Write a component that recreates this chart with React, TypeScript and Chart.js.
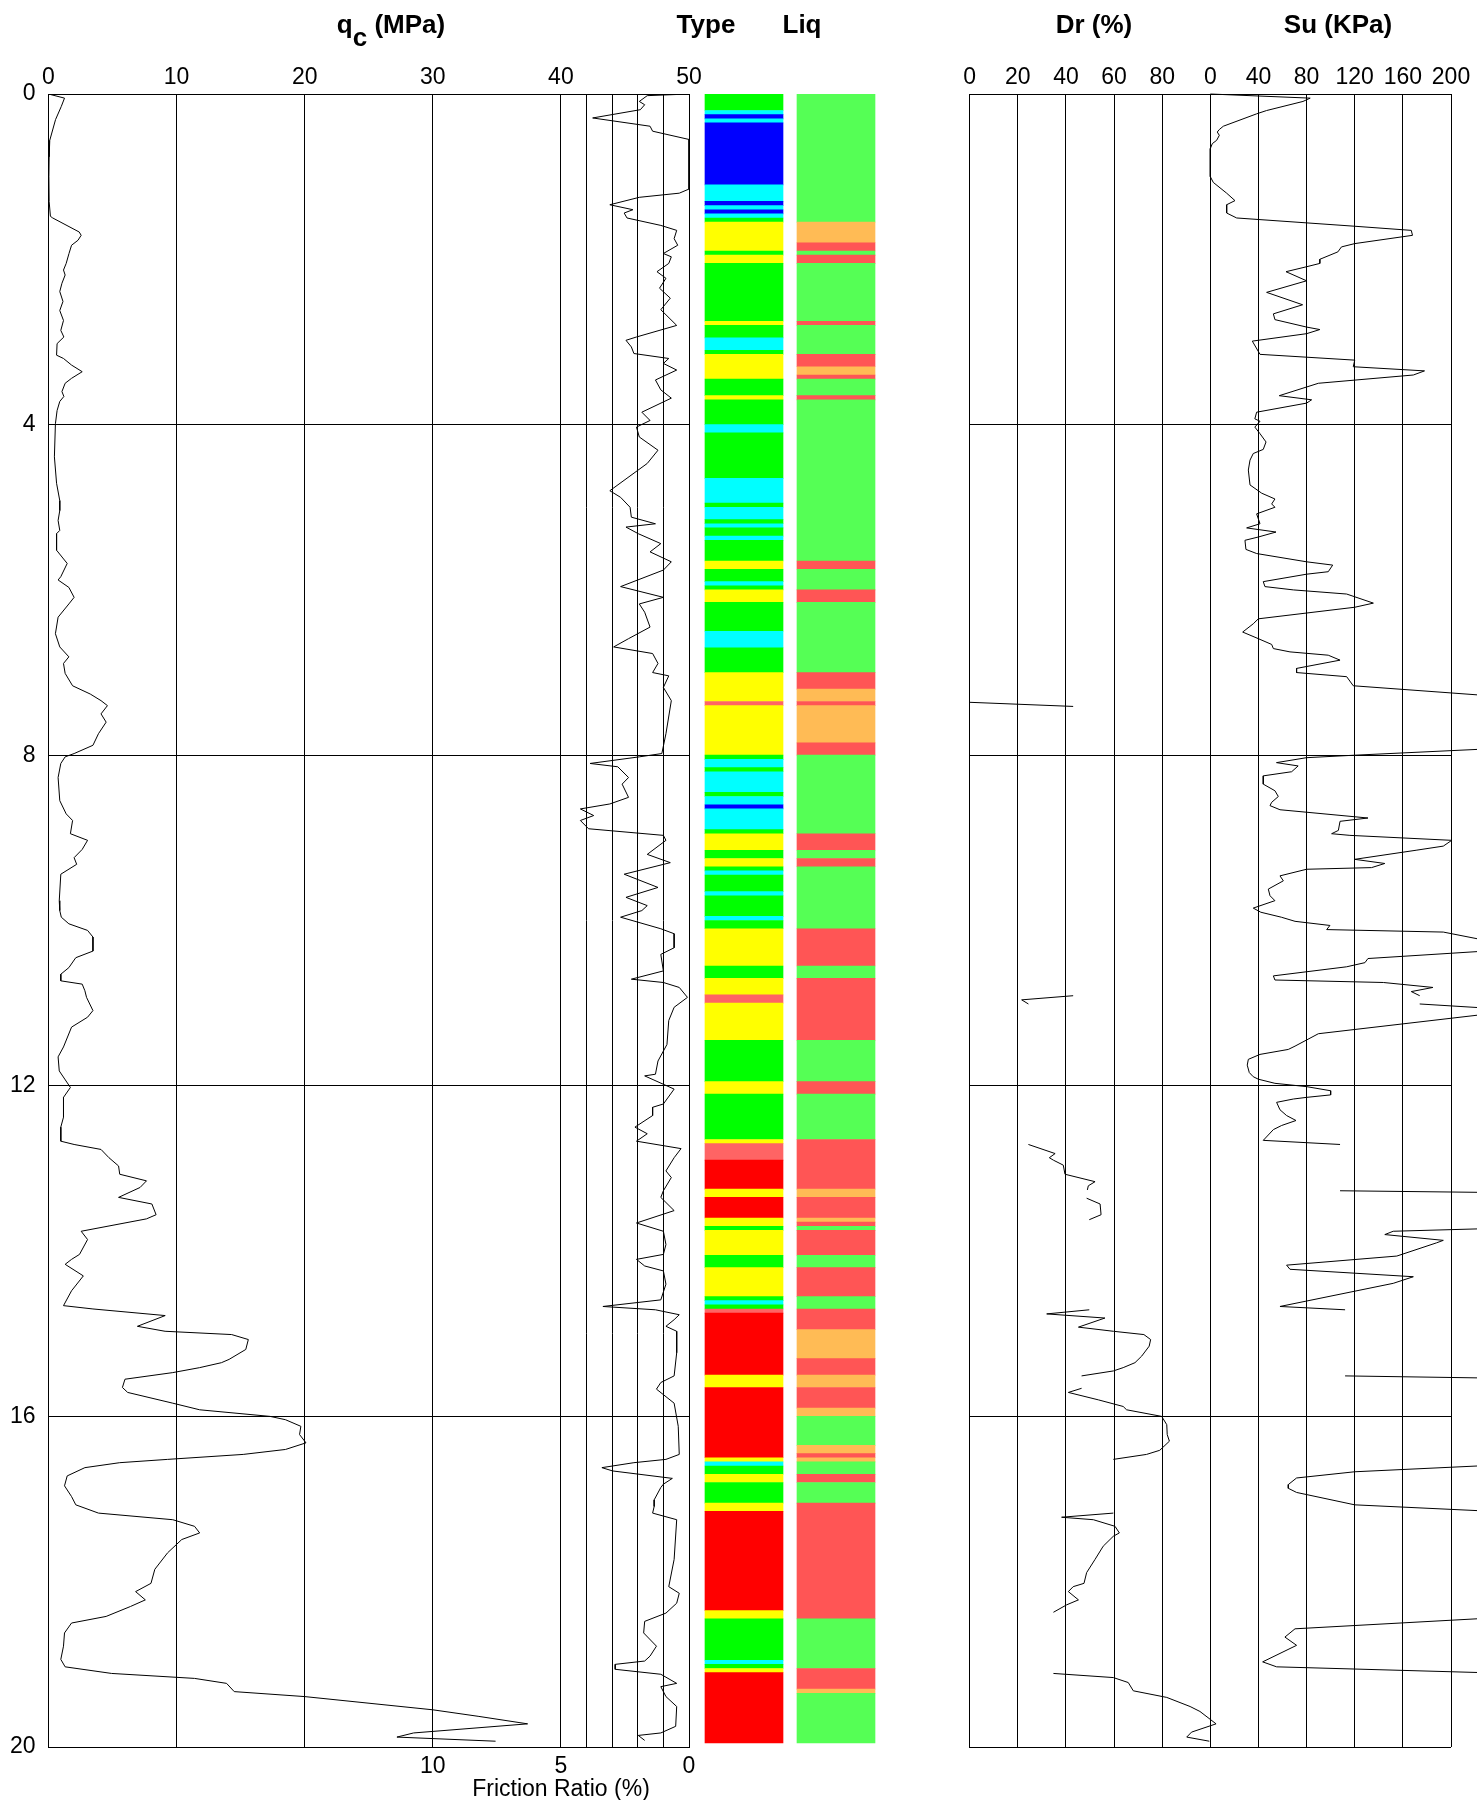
import React, { useEffect, useRef } from "react";
import { Chart, registerables } from "chart.js";

Chart.register(...registerables);

const FONT = "'Liberation Sans', Arial, Helvetica, sans-serif";
Chart.defaults.font.family = FONT;
Chart.defaults.color = "#000";

// ---------------- DATA ----------------
// depth range (m)
const depthMin = 0;
const depthMax = 20;
const depthStep = 4;

// tick label sets
const qcTicks = [0, 10, 20, 30, 40, 50];
const frictionTickLabels = [0, 5, 10];
const frictionGridValues = [1, 2, 3, 4];
const drTickLabels = [0, 20, 40, 60, 80];
const suTicks = [0, 40, 80, 120, 160, 200];

// [depth m, qc MPa]
const qcProfile: [number, number | null][] = [
  [0, 0], [0.05, 1.25], [0.15, 1.0], [0.31, 0.55], [0.56, 0.1], [0.76, 0.05], [1.0, 0.03], [1.3, 0.05],
  [1.48, 0.15], [1.5, 0.33], [1.67, 2.4], [1.71, 2.55], [1.77, 2.3], [1.83, 1.8], [1.93, 1.6], [2.05, 1.38],
  [2.13, 1.17], [2.19, 1.3], [2.29, 1.05], [2.39, 0.88], [2.51, 1.13], [2.62, 0.88], [2.74, 1.17], [2.86, 0.96],
  [2.94, 1.2], [3.02, 0.67], [3.16, 0.63], [3.2, 1.17], [3.28, 1.8], [3.36, 2.63], [3.44, 1.8], [3.5, 1.3],
  [3.6, 1.05], [3.66, 1.2], [3.72, 0.88], [3.83, 0.67], [3.99, 0.54], [4.39, 0.46], [4.71, 0.63], [4.92, 0.88],
  [5.04, 0.88], [5.16, 0.75], [5.28, 0.88], [5.32, 0.63], [5.52, 0.63], [5.68, 1.46], [5.84, 0.96], [5.88, 0.75],
  [5.97, 1.59], [6.09, 2.0], [6.17, 1.59], [6.33, 0.75], [6.53, 0.54], [6.69, 0.88], [6.81, 1.59], [6.89, 1.17],
  [7.01, 1.3], [7.16, 1.88], [7.26, 3.26], [7.34, 4.1], [7.4, 4.6], [7.5, 4.1], [7.6, 4.5], [7.74, 3.9],
  [7.88, 3.47], [7.98, 2.0], [8.02, 1.3], [8.1, 0.96], [8.27, 0.75], [8.55, 0.88], [8.71, 1.38], [8.79, 1.88],
  [8.95, 1.71], [9.03, 3.05], [9.14, 2.63], [9.24, 2.0], [9.32, 2.2], [9.44, 0.96], [9.76, 0.84], [9.88, 0.88],
  [9.96, 1.0], [10.04, 1.59], [10.12, 3.05], [10.2, 3.47], [10.37, 3.47], [10.45, 2.13], [10.57, 1.59], [10.65, 0.96],
  [10.73, 0.96], [10.77, 2.63], [10.85, 2.84], [10.93, 2.97], [11.09, 3.47], [11.17, 3.05], [11.29, 1.8], [11.53, 1.17],
  [11.65, 0.75], [11.82, 0.84], [12.02, 1.71], [12.14, 1.17], [12.38, 1.17], [12.5, 0.96], [12.67, 0.96], [12.71, 2.0],
  [12.77, 4.1], [12.87, 4.72], [12.97, 5.47], [13.07, 5.56], [13.15, 7.65], [13.23, 7.15], [13.35, 5.47], [13.43, 8.07],
  [13.56, 8.4], [13.61, 7.65], [13.76, 2.55], [13.86, 3.05], [14.04, 2.42], [14.1, 1.8], [14.16, 1.3], [14.3, 2.72],
  [14.48, 1.8], [14.66, 1.17], [14.7, 3.47], [14.78, 9.11], [14.91, 6.94], [14.97, 9.1], [15.01, 14.3], [15.07, 15.6],
  [15.19, 15.4], [15.31, 14.1], [15.35, 13.5], [15.41, 11.8], [15.47, 9.7], [15.55, 5.97], [15.65, 5.77], [15.71, 6.18],
  [15.84, 9.7], [15.92, 11.8], [16.0, 17.3], [16.04, 18.5], [16.12, 19.7], [16.22, 19.6], [16.32, 20.1], [16.4, 18.5],
  [16.46, 15.2], [16.52, 9.3], [16.56, 5.56], [16.62, 2.84], [16.72, 1.46], [16.84, 1.25], [16.97, 1.8], [17.07, 2.13],
  [17.17, 3.9], [17.25, 9.7], [17.33, 11.4], [17.41, 11.8], [17.49, 10.4], [17.65, 9.3], [17.85, 8.3], [18.02, 8.0],
  [18.12, 6.8], [18.22, 7.56], [18.3, 6.4], [18.42, 4.5], [18.5, 1.8], [18.62, 1.25], [18.78, 1.17], [18.94, 0.96],
  [19.03, 1.3], [19.11, 4.93], [19.17, 11.4], [19.23, 13.9], [19.33, 14.5], [19.39, 20.0], [19.55, 30.0], [19.63, 33.6],
  [19.72, 37.4], [19.83, 28.5], [19.88, 27.2], [19.93, 34.9],
];

// [depth m, friction ratio %]
const frictionRatioProfile: [number, number | null][] = [
  [0, 0], [0.02, 1.63], [0.09, 1.94], [0.13, 1.73], [0.19, 1.9], [0.29, 3.76], [0.39, 1.52], [0.45, 1.42],
  [0.55, 0], [1.15, 0], [1.2, 0.38], [1.25, 1.94], [1.34, 3.09], [1.4, 2.19], [1.44, 2.53], [1.5, 2.42],
  [1.59, 1.1], [1.65, 0.48], [1.75, 0.58], [1.83, 0.44], [1.93, 1.0], [1.97, 0.69], [2.05, 0.79], [2.15, 1.25],
  [2.23, 0.9], [2.35, 1.15], [2.47, 0.73], [2.61, 1.1], [2.8, 0.48], [2.94, 2.05], [2.98, 2.46], [3.06, 2.25],
  [3.14, 2.15], [3.2, 0.79], [3.26, 1.0], [3.34, 0.48], [3.46, 1.31], [3.58, 1.1], [3.68, 0.69], [3.85, 1.84],
  [3.95, 1.52], [4.03, 2.05], [4.15, 1.94], [4.31, 1.21], [4.47, 1.63], [4.8, 3.09], [4.88, 2.67], [5.0, 2.3],
  [5.12, 2.25], [5.2, 1.31], [5.24, 2.46], [5.32, 1.98], [5.44, 1.1], [5.54, 1.52], [5.66, 0.69], [5.76, 1.0],
  [5.96, 2.67], [6.09, 1.0], [6.17, 1.94], [6.27, 1.73], [6.45, 1.52], [6.59, 2.36], [6.69, 2.94], [6.77, 1.42],
  [6.89, 1.21], [7.0, 1.42], [7.04, 0.79], [7.18, 1.0], [7.34, 0.69], [7.74, 0.9], [7.98, 1.06], [8.02, 1.94],
  [8.1, 3.86], [8.14, 2.78], [8.27, 2.36], [8.35, 2.61], [8.51, 2.36], [8.59, 3.09], [8.65, 4.24], [8.73, 3.72],
  [8.79, 4.24], [8.89, 3.92], [8.97, 1.0], [9.03, 0.9], [9.2, 1.63], [9.3, 0.73], [9.44, 2.53], [9.6, 1.21],
  [9.72, 2.46], [9.82, 1.63], [9.88, 1.84], [9.96, 2.67], [10.1, 1.1], [10.16, 0.58], [10.33, 0.58], [10.41, 1.1],
  [10.49, 1.06], [10.61, 1.0], [10.71, 2.25], [10.75, 1.0], [10.81, 0.38], [10.93, 0.06], [11.05, 0.58], [11.21, 0.79],
  [11.5, 0.86], [11.7, 1.21], [11.86, 1.31], [11.88, 1.73], [12.04, 0.58], [12.22, 1.0], [12.26, 1.42], [12.36, 1.42],
  [12.5, 2.11], [12.58, 1.63], [12.67, 2.05], [12.76, 0.31], [12.87, 0.58], [13.03, 0.9], [13.11, 0.69], [13.27, 1.0],
  [13.35, 1.1], [13.51, 0.58], [13.66, 2.05], [13.76, 1.0], [13.92, 0.9], [14.04, 1.0], [14.1, 2.05], [14.18, 1.73],
  [14.24, 1.0], [14.4, 0.9], [14.59, 1.1], [14.67, 3.36], [14.71, 1.31], [14.77, 0.38], [14.83, 0.58], [14.91, 0.9],
  [14.97, 0.48], [15.23, 0.48], [15.51, 0.58], [15.59, 1.1], [15.67, 1.27], [15.84, 0.58], [16.12, 0.42], [16.46, 0.38],
  [16.52, 0.9], [16.56, 2.15], [16.62, 3.4], [16.66, 2.98], [16.75, 0.65], [16.82, 1.0], [16.86, 1.1], [17.01, 1.36],
  [17.09, 1.36], [17.17, 1.42], [17.25, 0.48], [17.73, 0.58], [18.06, 0.79], [18.14, 0.38], [18.26, 0.48], [18.38, 0.9],
  [18.48, 1.73], [18.62, 1.77], [18.78, 1.27], [18.9, 1.52], [18.96, 1.73], [19.0, 2.88], [19.06, 2.88], [19.12, 1.1],
  [19.23, 0.48], [19.27, 1.1], [19.39, 0.9], [19.51, 0.48], [19.75, 0.52], [19.83, 1.1], [19.86, 1.98], [19.92, 1.73],
];

// [depth m, Dr %]  (null = gap)
const drProfile: [number, number | null][] = [
  [7.36, 0], [7.41, 43], [7.6, null],
  [10.91, 43], [10.96, 21.6], [11.01, 24.4], [11.5, null],
  [12.71, 24.4], [12.82, 35.5], [12.87, 33.1], [12.9, 34.8], [12.96, 38.9], [13.07, 39.6], [13.16, 52.1], [13.21, 49.3],
  [13.26, 48.9], [13.3, null],
  [13.36, 48.6], [13.43, 54.2], [13.56, 54.6], [13.62, 49.7], [14.0, null],
  [14.71, 49.7], [14.76, 32], [14.81, 56.2], [14.92, 45.2], [14.97, 59.7], [15.01, 72.4], [15.07, 75.2], [15.15, 74.6],
  [15.27, 71.5], [15.35, 68.7], [15.41, 63.8], [15.45, 59.7], [15.51, 46.5], [15.6, null],
  [15.66, 46.5], [15.71, 41], [15.8, 53.5], [15.88, 63.8], [15.92, 65.2], [16.0, 79.8], [16.1, 81.9], [16.22, 82.1],
  [16.3, 83], [16.41, 79], [16.46, 73.5], [16.52, 59.7], [16.8, null],
  [17.17, 59.7], [17.22, 38.2], [17.25, 51.4], [17.33, 60.4], [17.41, 62.2], [17.45, 59.7], [17.57, 55.5], [17.73, 52.1],
  [17.89, 48.6], [18.02, 47.5], [18.06, 43], [18.12, 41], [18.22, 45.2], [18.28, 40.3], [18.37, 34.8], [18.7, null],
  [19.11, 34.8], [19.16, 59.7], [19.22, 65.9], [19.32, 68], [19.4, 81.9], [19.51, 91.6], [19.57, 95.7], [19.72, 102.4],
  [19.82, 92.2], [19.88, 90.2], [19.93, 99.6],
];

// [depth m, Su kPa]  (null = gap; values above 200 run off the panel)
const suProfile: [number, number | null][] = [
  [0, 0], [0.05, 83], [0.09, 77], [0.2, 46.8], [0.24, 38.5], [0.39, 10.8], [0.43, 7.5], [0.46, 5.8],
  [0.5, 7.5], [0.56, 5.3], [0.6, 1.7], [0.66, 0], [1.0, 0], [1.07, 2.5], [1.2, 13.6], [1.29, 20.5],
  [1.34, 13.6], [1.44, 13.6], [1.5, 21.9], [1.6, 120], [1.65, 167], [1.71, 168], [1.81, 120], [1.85, 109],
  [1.91, 106], [2.0, 91], [2.05, 91], [2.09, 80], [2.15, 62.9], [2.26, 80], [2.4, 46.8], [2.55, 76.7],
  [2.66, 52.4], [2.73, 53.7], [2.82, 80], [2.85, 91], [2.9, 80], [2.99, 34.9], [3.15, 41.3], [3.22, 120],
  [3.3, 118.8], [3.35, 178], [3.4, 168.7], [3.5, 89.8], [3.65, 57.3], [3.7, 84.2], [3.74, 80], [3.85, 38.5],
  [3.93, 37], [3.96, 41.3], [4.03, 37], [4.11, 41.3], [4.21, 46.3], [4.3, 44], [4.35, 35.7], [4.43, 33],
  [4.55, 31.6], [4.73, 33], [4.83, 42.7], [4.9, 53.7], [4.96, 51], [5.0, 53.7], [5.08, 38.5], [5.2, 41.3],
  [5.25, 30.2], [5.3, 54.6], [5.36, 39.9], [5.4, 28.8], [5.51, 29.6], [5.56, 38.5], [5.66, 80], [5.7, 101.7],
  [5.78, 98], [5.81, 80], [5.9, 44], [5.96, 45.4], [6.0, 69], [6.05, 113.3], [6.16, 135.5], [6.21, 120],
  [6.35, 39.9], [6.41, 35.7], [6.51, 26.9], [6.59, 39.9], [6.66, 51], [6.71, 52.4], [6.75, 66.2], [6.79, 98],
  [6.85, 107.8], [6.95, 71.7], [7.0, 71.7], [7.05, 113.3], [7.16, 118.8], [7.3, 250], [7.32, null],
  [7.9, 265], [8.0, 120], [8.03, 80], [8.09, 55], [8.13, 73], [8.2, 67.6], [8.25, 44], [8.35, 44],
  [8.43, 53.7], [8.5, 56.5], [8.57, 51], [8.61, 49.6], [8.66, 57.9], [8.69, 80], [8.76, 131], [8.8, 107.8],
  [8.91, 106.4], [8.95, 100.8], [8.97, 116], [9.03, 200.6], [9.1, 193.6], [9.15, 171], [9.26, 120], [9.31, 145],
  [9.36, 134], [9.38, 80], [9.46, 57.9], [9.52, 60.7], [9.62, 48.2], [9.7, 49.6], [9.76, 53.7], [9.85, 35.7],
  [9.9, 42], [9.96, 59], [10.01, 70.4], [10.06, 99.4], [10.11, 96.7], [10.14, 193.6], [10.25, 232], [10.33, 272],
  [10.46, 131], [10.51, 128.5], [10.56, 113.3], [10.67, 52.4], [10.72, 53.7], [10.75, 143.8], [10.81, 185], [10.86, 167],
  [10.91, 174], [10.95, null],
  [11.01, 174], [11.04, 207.5], [11.08, 252], [11.12, 237], [11.37, 89.8], [11.52, 70.4], [11.56, 64.8], [11.62, 41.3],
  [11.68, 31.6], [11.75, 30.7], [11.84, 32.4], [11.89, 35.7], [11.92, 39.9], [11.97, 53.7], [12.01, 80], [12.06, 100],
  [12.11, 100], [12.14, 80], [12.16, 69], [12.2, 55.1], [12.29, 57.9], [12.36, 63.4], [12.42, 71.2], [12.48, 59.3],
  [12.53, 52.4], [12.66, 44], [12.71, 107.8], [12.9, null],
  [13.27, 107.8], [13.295, 260], [13.5, null],
  [13.72, 250], [13.76, 152], [13.8, 145], [13.87, 193.6], [13.9, 188], [14.06, 155], [14.17, 63.4], [14.22, 66.2],
  [14.31, 168.7], [14.39, 152], [14.67, 57.9], [14.71, 112], [14.9, null],
  [15.51, 112], [15.54, 250], [16.0, null],
  [16.58, 251], [16.67, 120], [16.745, 71.7], [16.825, 64.8], [16.87, 64.8], [16.92, 71.7], [17.07, 120], [17.16, 251],
  [17.5, null],
  [18.43, 245], [18.57, 70.4], [18.67, 62], [18.77, 71.7], [18.97, 43.5], [19.03, 55.1], [19.11, 250],
];

// soil behaviour type layers: edges (m) and class of each layer
const typeEdges = [
  0, 0.2, 0.25, 0.3, 0.35, 1.1, 1.3, 1.35, 1.4, 1.45, 1.5, 1.55, 1.9, 1.95, 2.05, 2.75, 2.8, 2.95, 3.1, 3.15,
  3.45, 3.65, 3.7, 4.0, 4.1, 4.65, 4.95, 5.0, 5.15, 5.2, 5.25, 5.35, 5.4, 5.65, 5.75, 5.9, 5.95, 6.0, 6.15, 6.5,
  6.7, 7.0, 7.35, 7.4, 8.0, 8.05, 8.15, 8.2, 8.45, 8.5, 8.6, 8.65, 8.9, 8.95, 9.15, 9.25, 9.35, 9.4, 9.45, 9.65,
  9.7, 9.95, 10.0, 10.1, 10.55, 10.7, 10.9, 11.0, 11.45, 11.95, 12.1, 12.65, 12.7, 12.9, 13.25, 13.35, 13.6, 13.7,
  13.75, 14.05, 14.2, 14.55, 14.6, 14.65, 14.7, 14.75, 15.5, 15.65, 16.5, 16.55, 16.6, 16.7, 16.8, 17.05, 17.15,
  18.35, 18.45, 18.95, 19.0, 19.05, 19.1, 19.95,
];
const typeClasses = [
  "G", "C", "B", "C", "B", "C", "B", "C", "B", "C", "G", "Y", "G", "Y", "G", "Y", "G", "C", "G", "Y",
  "G", "Y", "G", "C", "G", "C", "G", "C", "G", "C", "G", "C", "G", "Y", "G", "C", "G", "Y", "G", "C",
  "G", "Y", "S", "Y", "G", "C", "G", "C", "G", "C", "B", "C", "G", "Y", "G", "Y", "G", "C", "G", "C",
  "G", "C", "G", "Y", "G", "Y", "S", "Y", "G", "Y", "G", "Y", "S", "R", "Y", "R", "Y", "G", "Y", "G",
  "Y", "G", "C", "G", "S", "R", "Y", "R", "Y", "C", "G", "Y", "G", "Y", "R", "Y", "G", "C", "G", "Y", "R",
];

// liquefaction layers
const liqEdges = [
  0, 1.55, 1.8, 1.9, 1.95, 2.05, 2.75, 2.8, 3.15, 3.3, 3.4, 3.45, 3.65, 3.7, 5.65, 5.75, 6.0, 6.15, 7.0, 7.2,
  7.35, 7.4, 7.85, 8.0, 8.95, 9.15, 9.25, 9.35, 10.1, 10.55, 10.7, 11.45, 11.95, 12.1, 12.65, 13.25, 13.35, 13.6,
  13.65, 13.7, 13.75, 14.05, 14.2, 14.55, 14.7, 14.95, 15.3, 15.5, 15.65, 15.9, 16.0, 16.35, 16.45, 16.5, 16.55,
  16.7, 16.8, 17.05, 18.45, 19.05, 19.3, 19.35, 19.95,
];
const liqClasses = [
  "G", "O", "R", "G", "R", "G", "R", "G", "R", "O", "R", "G", "R", "G", "R", "G", "R", "G", "R", "O",
  "R", "O", "R", "G", "R", "G", "R", "G", "R", "G", "R", "G", "R", "G", "R", "O", "R", "O", "R", "G",
  "R", "G", "R", "G", "R", "O", "R", "O", "R", "O", "G", "O", "R", "O", "G", "R", "G", "R", "G", "R", "O", "G",
];

// ---------------- STYLE ----------------
const TYPE_COLORS: Record<string, string> = {
  G: "#00ff00", C: "#00ffff", B: "#0000ff", Y: "#ffff00", R: "#ff0000", S: "#ff6464",
};
const LIQ_COLORS: Record<string, string> = { G: "#55ff55", R: "#ff5555", O: "#ffbb55" };

const W = 1477;
const H = 1800;
const PLOT_TOP = 94;
const PLOT_BOTTOM_PAD = 53;
const TICK_FONT = { family: FONT, size: 23 };

const toPoints = (rows: [number, number | null][]) =>
  rows.map(([d, v]) => (v === null ? { x: null, y: null } : { x: v, y: d }));

const baseOptions = {
  animation: false,
  responsive: false,
  maintainAspectRatio: false,
  devicePixelRatio: 1,
  events: [],
  plugins: { legend: { display: false }, tooltip: { enabled: false }, title: { display: false } },
};

function depthAxis(showLabels: boolean, width: number) {
  return {
    type: "linear",
    axis: "y",
    reverse: true,
    min: depthMin,
    max: depthMax,
    ticks: { stepSize: depthStep, display: showLabels, padding: 13, font: TICK_FONT, color: "#000" },
    grid: { color: "#000", lineWidth: 1, drawTicks: false },
    border: { display: true, color: "#000", width: 1 },
    afterFit: (s: any) => {
      s.width = width;
    },
  };
}

function topAxis(min: number, max: number, step: number, labels: number[]) {
  return {
    type: "linear",
    axis: "x",
    position: "top",
    min,
    max,
    ticks: {
      stepSize: step,
      autoSkip: false,
      maxRotation: 0,
      minRotation: 0,
      padding: 3,
      font: TICK_FONT,
      color: "#000",
      callback: (v: number) => (labels.includes(v) ? String(v) : ""),
    },
    grid: { color: "#000", lineWidth: 1, drawTicks: false },
    border: { display: true, color: "#000", width: 1 },
    afterFit: (s: any) => {
      s.height = PLOT_TOP;
    },
  };
}

const lineDataset = (rows: [number, number | null][], xAxisID: string, clip: any) => ({
  data: toPoints(rows),
  xAxisID,
  yAxisID: "y",
  showLine: true,
  borderColor: "#000",
  borderWidth: 1,
  pointRadius: 0,
  pointHoverRadius: 0,
  fill: false,
  tension: 0,
  spanGaps: false,
  clip,
});

function leftConfig(): any {
  return {
    type: "scatter",
    data: {
      datasets: [lineDataset(qcProfile, "x", 0), lineDataset(frictionRatioProfile, "fr", 0)],
    },
    options: {
      ...baseOptions,
      layout: { padding: { left: 0, right: 31, top: 0, bottom: 0 } },
      scales: {
        x: topAxis(0, 50, 10, qcTicks),
        fr: {
          type: "linear",
          axis: "x",
          position: "bottom",
          reverse: true,
          min: 0,
          max: 25,
          ticks: {
            stepSize: 1,
            autoSkip: false,
            maxRotation: 0,
            minRotation: 0,
            padding: 6,
            font: TICK_FONT,
            color: "#000",
            callback: (v: number) => (frictionTickLabels.includes(v) ? String(v) : ""),
          },
          grid: {
            color: (c: any) => (c.tick && frictionGridValues.includes(c.tick.value) ? "#000" : "rgba(0,0,0,0)"),
            lineWidth: 1,
            drawTicks: false,
          },
          border: { display: true, color: "#000", width: 1 },
          afterFit: (s: any) => {
            s.height = PLOT_BOTTOM_PAD;
          },
        },
        y: depthAxis(true, 48.5),
      },
    },
  };
}

function layerConfig(): any {
  const layerData = (edges: number[], classes: string[], label: string) =>
    classes.map((_, i) => ({ x: label, y: [edges[i], edges[i + 1]] }));
  return {
    type: "bar",
    data: {
      labels: ["Type", "Liq"],
      datasets: [
        {
          data: layerData(typeEdges, typeClasses, "Type"),
          backgroundColor: typeClasses.map((c) => TYPE_COLORS[c]),
          borderWidth: 0,
          barThickness: 78,
          grouped: false,
        },
        {
          data: layerData(liqEdges, liqClasses, "Liq"),
          backgroundColor: liqClasses.map((c) => LIQ_COLORS[c]),
          borderWidth: 0,
          barThickness: 78,
          grouped: false,
        },
      ],
    },
    options: {
      ...baseOptions,
      layout: { padding: { left: 8, right: 8, top: PLOT_TOP, bottom: PLOT_BOTTOM_PAD } },
      scales: {
        x: { type: "category", display: false, offset: true },
        y: { type: "linear", display: false, reverse: true, min: depthMin, max: depthMax },
      },
    },
  };
}

function rightConfig(
  rows: [number, number | null][],
  max: number,
  step: number,
  labels: number[],
  padL: number,
  padR: number
): any {
  return {
    type: "scatter",
    data: { datasets: [lineDataset(rows, "x", false)] },
    options: {
      ...baseOptions,
      layout: { padding: { left: padL, right: padR, top: 0, bottom: PLOT_BOTTOM_PAD } },
      scales: {
        x: topAxis(0, max, step, labels),
        y: depthAxis(false, 0),
      },
    },
  };
}

function ChartCanvas({ left, width, make }: { left: number; width: number; make: () => any }) {
  const ref = useRef<HTMLCanvasElement | null>(null);
  useEffect(() => {
    if (!ref.current) return;
    const chart = new Chart(ref.current, make());
    return () => chart.destroy();
  }, []);
  return (
    <canvas
      ref={ref}
      width={width}
      height={H}
      style={{ position: "absolute", left, top: 0, width, height: H, display: "block" }}
    />
  );
}

const titleStyle = (cx: number, top: number, size: number, bold: boolean, lh: number): React.CSSProperties => ({
  position: "absolute",
  left: cx,
  top,
  transform: "translateX(-50%)",
  fontFamily: FONT,
  fontSize: size,
  fontWeight: bold ? "bold" : "normal",
  lineHeight: `${lh}px`,
  whiteSpace: "nowrap",
  color: "#000",
});

export default function App() {
  return (
    <div
      style={{
        position: "absolute",
        left: 0,
        top: 0,
        width: W,
        height: H,
        background: "#fff",
        overflow: "hidden",
      }}
    >
      <ChartCanvas left={0} width={720} make={leftConfig} />
      <ChartCanvas left={690} width={200} make={layerConfig} />
      <ChartCanvas left={940} width={290} make={() => rightConfig(drProfile, 100, 20, drTickLabels, 29.7, 19.7)} />
      <ChartCanvas left={1190} width={287} make={() => rightConfig(suProfile, 200, 40, suTicks, 20.3, 26)} />

      <div style={titleStyle(391, 9, 26, true, 30)}>
        q<span style={{ position: "relative", top: 13 }}>c</span> (MPa)
      </div>
      <div style={titleStyle(706, 9, 26, true, 30)}>Type</div>
      <div style={titleStyle(802, 9, 26, true, 30)}>Liq</div>
      <div style={titleStyle(1094, 9, 26, true, 30)}>Dr (%)</div>
      <div style={titleStyle(1338, 9, 26, true, 30)}>Su (KPa)</div>
      <div style={titleStyle(561, 1774, 23, false, 28)}>Friction Ratio (%)</div>
    </div>
  );
}
